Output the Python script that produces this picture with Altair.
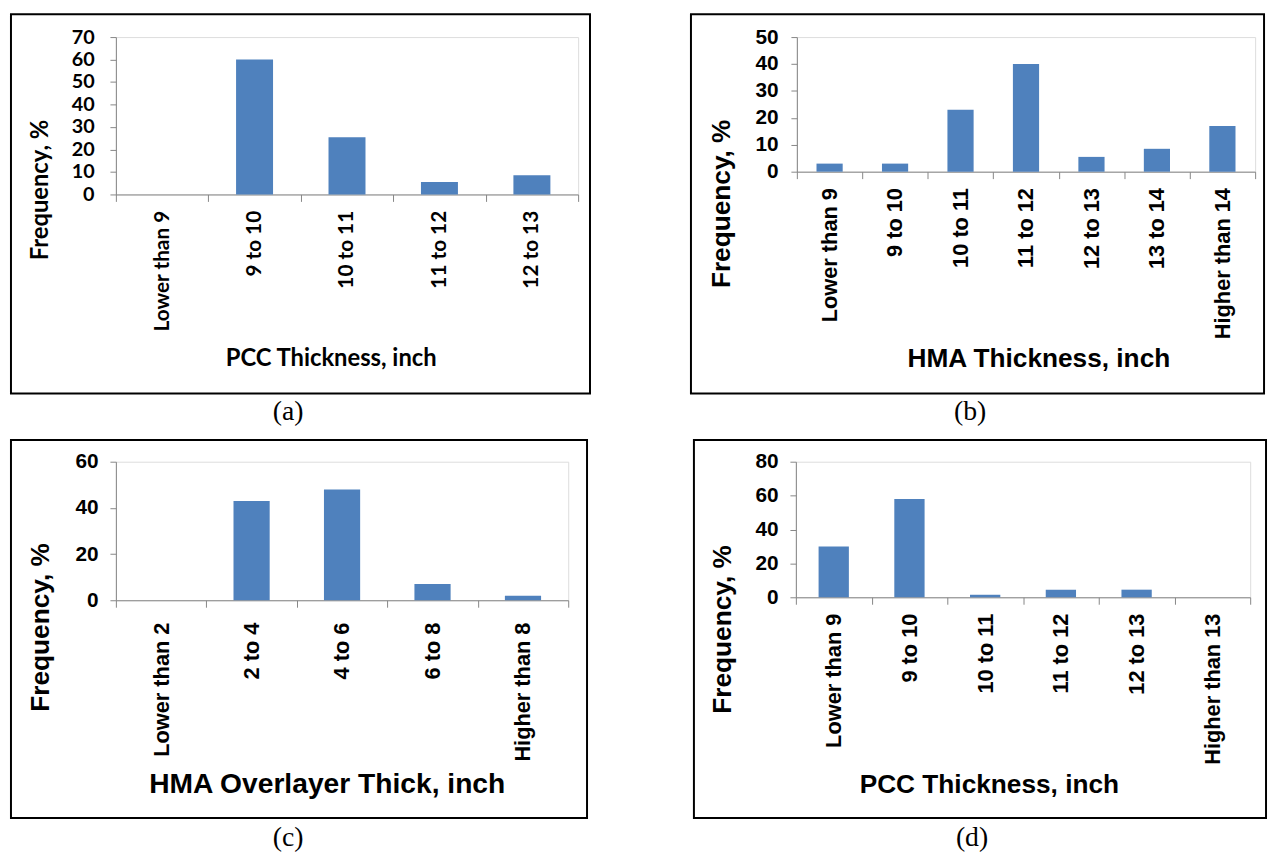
import altair as alt
import pandas as pd

# ---------------- data ----------------
cats_a = ["Lower than 9", "9 to 10", "10 to 11", "11 to 12", "12 to 13"]
freq_a = [0, 60, 25.5, 5.5, 8.5]
ticks_a = [0, 10, 20, 30, 40, 50, 60, 70]

cats_b = ["Lower than 9", "9 to 10", "10 to 11", "11 to 12", "12 to 13", "13 to 14", "Higher than 14"]
freq_b = [3, 3, 23, 40, 5.5, 8.5, 17]
ticks_b = [0, 10, 20, 30, 40, 50]

cats_c = ["Lower than 2", "2 to 4", "4 to 6", "6 to 8", "Higher than 8"]
freq_c = [0, 43, 48, 7, 2]
ticks_c = [0, 20, 40, 60]

cats_d = ["Lower than 9", "9 to 10", "10 to 11", "11 to 12", "12 to 13", "Higher than 13"]
freq_d = [30, 58, 1.5, 4.5, 4.5, 0]
ticks_d = [0, 20, 40, 60, 80]

y_title = "Frequency, %"
x_titles = ["PCC Thickness, inch", "HMA Thickness, inch", "HMA Overlayer Thick, inch", "PCC Thickness, inch"]
captions = ["(a)", "(b)", "(c)", "(d)"]

BLUE = "#4F81BD"
GRAY = "#868686"


def panel(cats, vals, ticks, ymax, xtitle, caption, g):
    df = pd.DataFrame({"cat": cats, "freq": vals})
    font = g["font"]
    x = alt.X(
        "cat:N", sort=cats,
        scale=alt.Scale(paddingInner=0, paddingOuter=0),
        axis=alt.Axis(
            title=xtitle, labelAngle=-90, tickBand="extent",
            labelFont=font, labelFontSize=g["xl"], labelFontWeight="bold",
            labelColor="black", labelPadding=g["lp"], labelLimit=400,
            tickSize=7, tickColor=GRAY, domainColor=GRAY,
            titleX=g["xtx"], titleY=g["xty"], titleFont=font,
            titleFontSize=g["xt"], titleFontWeight="bold", titleColor="black",
            titleBaseline="middle", titleAlign="center",
        ),
    )
    y = alt.Y(
        "freq:Q",
        scale=alt.Scale(domain=[0, ymax], nice=False),
        axis=alt.Axis(
            values=ticks, title=y_title, grid=False,
            labelFont=font, labelFontSize=g["yl"], labelFontWeight="bold",
            labelColor="black", labelPadding=g["ylp"],
            tickSize=6, tickColor=GRAY, domainColor=GRAY,
            titleAngle=270, titleX=g["ytx"], titleY=g["yty"], titleFont=font,
            titleFontSize=g["yt"], titleFontWeight="bold", titleColor="black",
            titleBaseline="middle", titleAlign="center",
        ),
    )
    bars = alt.Chart(df).mark_bar(color=BLUE, width=alt.RelativeBandSize(0.4)).encode(x=x, y=y)
    one = alt.Data(values=[{"c": caption}])
    frame = alt.Chart(one).mark_rect(fillOpacity=0, stroke="black", strokeWidth=2).encode(
        x=alt.value(g["fx1"]), x2=alt.value(g["fx2"]),
        y=alt.value(g["fy1"]), y2=alt.value(g["fy2"]),
    )
    cap = alt.Chart(one).mark_text(font="Liberation Serif", fontSize=28, baseline="middle",
                                   align="center", color="black").encode(
        text="c:N", x=alt.value(g["cx"]), y=alt.value(g["cy"]),
    )
    return alt.layer(bars, frame, cap).properties(width=g["w"], height=g["h"])


ga = dict(font="Lato", w=467, h=159, xl=21, xt=24, yl=20, yt=24, lp=9, ylp=16,
          xtx=217, xty=166, ytx=-76, yty=154,
          fx1=-106, fx2=479, fy1=-23, fy2=360, cx=174, cy=379)
gb = dict(font="Liberation Sans", w=463, h=136, xl=22, xt=26.5, yl=21, yt=26.5, lp=9, ylp=13,
          xtx=244, xty=189, ytx=-76, yty=168,
          fx1=-107, fx2=472, fy1=-23, fy2=360, cx=175, cy=379)
gc = dict(font="Liberation Sans", w=457, h=140, xl=22, xt=28.5, yl=21, yt=26.5, lp=15, ylp=12,
          xtx=213, xty=185, ytx=-76, yty=167,
          fx1=-106, fx2=476, fy1=-22, fy2=360, cx=174, cy=380)
gd = dict(font="Liberation Sans", w=459, h=137, xl=22, xt=26.5, yl=21, yt=26.5, lp=9, ylp=12,
          xtx=195, xty=189, ytx=-74, yty=169,
          fx1=-103, fx2=475, fy1=-22, fy2=360, cx=178, cy=380)

pa = panel(cats_a, freq_a, ticks_a, 70, x_titles[0], captions[0], ga)
pb = panel(cats_b, freq_b, ticks_b, 50, x_titles[1], captions[1], gb)
pc = panel(cats_c, freq_c, ticks_c, 60, x_titles[2], captions[2], gc)
pd_ = panel(cats_d, freq_d, ticks_d, 80, x_titles[3], captions[3], gd)

top = alt.hconcat(pa, pb, spacing=98)
bottom = alt.hconcat(pc, pd_, spacing=104)
chart = alt.vconcat(top, bottom, spacing=11).properties(
    padding={"left": 1, "top": 0, "right": 0, "bottom": 0}
).configure_view(stroke=None).configure(background="white")

chart.save("out.html", embed_options={"renderer": "svg", "actions": False})
